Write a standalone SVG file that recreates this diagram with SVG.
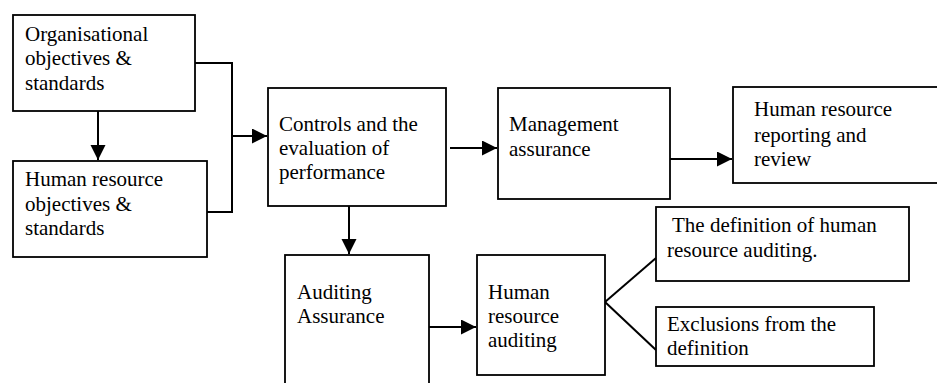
<svg xmlns="http://www.w3.org/2000/svg" width="937" height="383" viewBox="0 0 937 383">
<defs>
<marker id="ah" markerUnits="userSpaceOnUse" markerWidth="16" markerHeight="16" refX="15" refY="7.5" orient="auto">
<path d="M0,0 L15,7.5 L0,15 Z" fill="#000"/>
</marker>
<style>
.box{fill:#fff;stroke:#000;stroke-width:1.8}
.t{font-family:"Liberation Serif","Times New Roman",serif;font-size:21px;fill:#000}
.c{fill:none;stroke:#000;stroke-width:2}
</style>
</defs>
<rect width="937" height="383" fill="#fff"/>
<g id="connectors">
<line class="c" x1="98" y1="111" x2="98" y2="160" marker-end="url(#ah)"/>
<polyline class="c" points="195,63 232,63 232,212 207,212"/>
<line class="c" x1="232" y1="136" x2="267" y2="136" marker-end="url(#ah)"/>
<line class="c" x1="450" y1="148" x2="497" y2="148" marker-end="url(#ah)"/>
<line class="c" x1="670" y1="159" x2="732" y2="159" marker-end="url(#ah)"/>
<line class="c" x1="349" y1="206" x2="349" y2="254" marker-end="url(#ah)"/>
<line class="c" x1="429" y1="327" x2="476" y2="327" marker-end="url(#ah)"/>
<line class="c" x1="605" y1="302" x2="656" y2="258"/>
<line class="c" x1="605" y1="302" x2="656" y2="350"/>
</g>
<g id="n1">
<rect class="box" x="13" y="15" width="182" height="96"/>
<text class="t" x="25" y="40.5">Organisational</text>
<text class="t" x="25" y="65">objectives &amp;</text>
<text class="t" x="25" y="90">standards</text>
</g>
<g id="n2">
<rect class="box" x="13" y="161" width="194" height="96"/>
<text class="t" x="25" y="186">Human resource</text>
<text class="t" x="25" y="210.5">objectives &amp;</text>
<text class="t" x="25" y="234.5">standards</text>
</g>
<g id="n3">
<rect class="box" x="268" y="88" width="178" height="118"/>
<text class="t" x="279" y="131">Controls and the</text>
<text class="t" x="279" y="155">evaluation of</text>
<text class="t" x="279" y="179">performance</text>
</g>
<g id="n4">
<rect class="box" x="498" y="88" width="172" height="111"/>
<text class="t" x="509" y="131">Management</text>
<text class="t" x="509" y="156">assurance</text>
</g>
<g id="n5">
<rect class="box" x="733" y="87" width="210" height="96"/>
<text class="t" x="754" y="116">Human resource</text>
<text class="t" x="754" y="142">reporting and</text>
<text class="t" x="754" y="166">review</text>
</g>
<g id="n6">
<rect class="box" x="285" y="255" width="144" height="140"/>
<text class="t" x="297" y="299">Auditing</text>
<text class="t" x="297" y="323">Assurance</text>
</g>
<g id="n7">
<rect class="box" x="477" y="255" width="128" height="120"/>
<text class="t" x="488" y="299">Human</text>
<text class="t" x="488" y="323">resource</text>
<text class="t" x="488" y="347">auditing</text>
</g>
<g id="n8">
<rect class="box" x="656" y="207" width="253" height="74"/>
<text class="t" x="672" y="232">The definition of human</text>
<text class="t" x="667" y="257">resource auditing.</text>
</g>
<g id="n9">
<rect class="box" x="656" y="307" width="218" height="59"/>
<text class="t" x="667" y="331">Exclusions from the</text>
<text class="t" x="667" y="355">definition</text>
</g>
</svg>
